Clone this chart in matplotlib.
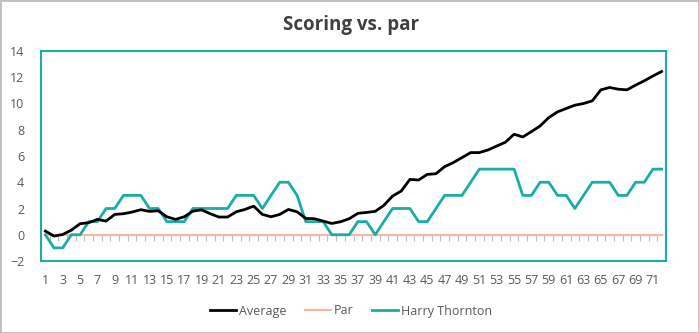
import matplotlib.pyplot as plt
from matplotlib.patches import Rectangle

# data
holes = list(range(1, 73))
average = [0.28, -0.1, 0.02, 0.35, 0.84, 0.92, 1.17, 1.04, 1.55, 1.6,
           1.73, 1.91, 1.78, 1.83, 1.37, 1.17, 1.37, 1.8, 1.9, 1.6,
           1.35, 1.35, 1.75, 1.93, 2.18, 1.55, 1.37, 1.55, 1.93, 1.75,
           1.24, 1.22, 1.04, 0.86, 0.99, 1.22, 1.63, 1.7, 1.78, 2.24,
           2.95, 3.33, 4.22, 4.17, 4.6, 4.65, 5.19, 5.5, 5.88, 6.26,
           6.26, 6.46, 6.76, 7.05, 7.66, 7.45, 7.86, 8.29, 8.93, 9.36,
           9.62, 9.87, 10.0, 10.2, 11.04, 11.22, 11.09, 11.04, 11.4, 11.73,
           12.1, 12.44]
par = [0] * 72
harry = [0, -1, -1, 0, 0, 1, 1, 2, 2, 3, 3, 3, 2, 2, 1, 1, 1, 2, 2, 2,
         2, 2, 3, 3, 3, 2, 3, 4, 4, 3, 1, 1, 1, 0, 0, 0, 1, 1, 0, 1,
         2, 2, 2, 1, 1, 2, 3, 3, 3, 4, 5, 5, 5, 5, 5, 3, 3, 4, 4, 3,
         3, 2, 3, 4, 4, 4, 3, 3, 4, 4, 5, 5]

TEAL = '#19ADA6'
GREY = '#595959'

plt.rcParams['font.family'] = ['Open Sans', 'DejaVu Sans']

fig = plt.figure(figsize=(6.99, 3.33), dpi=100)
ax = fig.add_axes([41 / 699, 72 / 333, 625 / 699, 210 / 333])

ax.plot(holes, par, color='#F7B7A5', lw=1.6, label='Par', zorder=2)
ax.plot(holes, average, color='black', lw=2, label='Average', zorder=4)
ax.plot(holes, harry, color=TEAL, lw=2, label='Harry Thornton', zorder=3)

ax.set_xlim(0.5, 72.5)
ax.set_ylim(-2, 14)
ax.set_yticks(range(-2, 15, 2))
ax.set_xticks(holes[::2])
ax.tick_params(axis='both', length=0, labelsize=9, colors=GREY)
ax.tick_params(axis='x', pad=9)
ax.tick_params(axis='y', pad=12)
for s in ax.spines.values():
    s.set_color(TEAL)
    s.set_linewidth(1.5)

# category ticks sitting on the zero line
sec = ax.secondary_xaxis(2 / 16)
sec.set_xticks([h + 0.5 for h in [0] + holes])
sec.tick_params(axis='x', length=4, width=0.8, color='#BFBFBF', labelbottom=False)
sec.spines['bottom'].set_visible(False)

h, l = ax.get_legend_handles_labels()
order = [1, 0, 2]
fig.legend([h[i] for i in order], [l[i] for i in order], loc='center',
           bbox_to_anchor=(351 / 699, 1 - 311 / 333), ncol=3, frameon=False,
           fontsize=9, labelcolor=GREY, handlelength=2.1, handletextpad=0.2,
           columnspacing=1.5)

fig.text(351 / 699, 1 - 25 / 333, 'Scoring vs. par', ha='center', va='center',
         fontsize=13.5, fontweight='bold', color='#404040')

fig.patches.append(Rectangle((0, 0), 1, 1, transform=fig.transFigure,
                             fill=False, edgecolor='#BFBFBF', lw=2))

fig.savefig('out.png', dpi=100)
